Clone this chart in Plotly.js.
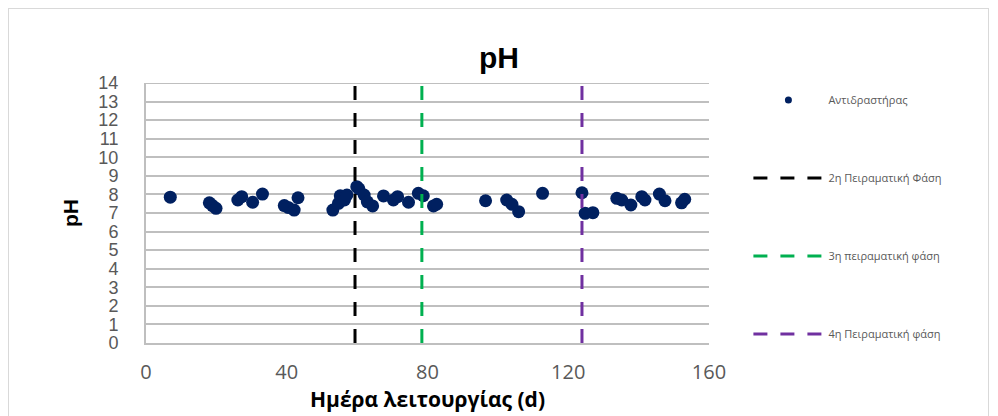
<!DOCTYPE html>
<html><head><meta charset="utf-8">
<script src="https://cdn.plot.ly/plotly-3.0.1.min.js"></script>
<style>
html,body{margin:0;padding:0;background:#fff;}
#frame{position:absolute;left:8px;top:8px;width:981px;height:430px;border:1px solid #d9d9d9;box-sizing:border-box;}
#chart{position:absolute;left:0;top:0;width:998px;height:416px;}
</style></head>
<body><div id="frame"></div><div id="chart"></div>
<script>
// Reactor pH measurements
const days = [6.9, 18.0, 18.9, 19.9, 26.1, 27.2, 30.3, 33.1, 39.3, 40.4, 42.1, 43.2,
  53.1, 54.7, 55.2, 56.4, 57.1, 59.9, 60.5, 62.0, 62.9, 64.4, 67.5, 70.3, 71.5, 74.6,
  77.4, 78.8, 81.7, 82.6, 96.5, 102.5, 104.0, 105.9, 112.7, 123.9, 124.8, 127.0,
  133.8, 135.2, 137.8, 140.9, 141.8, 145.9, 147.5, 152.2, 153.1];
const pH = [7.85, 7.55, 7.4, 7.25, 7.7, 7.88, 7.58, 8.02, 7.4, 7.3, 7.16, 7.82,
  7.16, 7.52, 7.93, 7.7, 7.97, 8.42, 8.3, 7.97, 7.6, 7.38, 7.92, 7.7, 7.88, 7.58,
  8.06, 7.93, 7.38, 7.47, 7.66, 7.7, 7.47, 7.07, 8.06, 8.09, 6.98, 7.02,
  7.79, 7.7, 7.43, 7.88, 7.7, 8.02, 7.66, 7.55, 7.74];
// Start days of experimental phases
const phaseNames = ['2η Πειραματική Φάση', '3η πειραματική φάση', '4η Πειραματική φάση'];
const phaseDays = [59.4, 78.4, 123.9];
const phaseColors = ['#000000', '#00b050', '#7030a0'];
const phaseSpan = [0, 14];
const xTicks = [0, 40, 80, 120, 160];
const yTicks = [0,1,2,3,4,5,6,7,8,9,10,11,12,13,14];

const navy = '#002060';
const traces = [];
traces.push({x: days, y: pH, type: 'scatter', mode: 'markers', name: 'Αντιδραστήρας',
  marker: {color: navy, size: 13}, showlegend: false, cliponaxis: false});
traces.push({x: [null], y: [null], type: 'scatter', mode: 'markers', name: 'Αντιδραστήρας',
  marker: {color: navy, size: 7}, legendgroup: 'a'});
phaseNames.forEach((n, i) => {
  traces.push({x: [phaseDays[i], phaseDays[i]], y: phaseSpan, type: 'scatter', mode: 'lines',
    name: n, legendgroup: 'g' + i, cliponaxis: false,
    line: {color: phaseColors[i], width: 3, dash: '14px,13px'}});
});

const sans = 'Open Sans, Noto Sans, sans-serif';
const lib = 'Liberation Sans, Arial, sans-serif';
const layout = {
  width: 998, height: 416,
  margin: {l: 146, r: 289, t: 83, b: 73},
  paper_bgcolor: 'rgba(0,0,0,0)', plot_bgcolor: 'rgba(0,0,0,0)',
  font: {family: sans, color: '#595959'},
  title: {text: '<b>pH</b>', font: {family: lib, size: 30, color: '#000'},
    xref: 'container', x: 0.5, xanchor: 'center', yref: 'container', y: 1 - 57/416, yanchor: 'middle'},
  xaxis: {range: [0, 160], tickvals: xTicks, ticktext: xTicks.map(String), showgrid: false,
    zeroline: false, showline: true, linecolor: '#bfbfbf', linewidth: 2,
    ticks: '', tickfont: {family: sans, size: 20, color: '#595959'}, ticklabelstandoff: 10,
    title: {text: '<b>Ημέρα λειτουργίας (d)</b>', font: {family: sans, size: 21, color: '#000'}, standoff: 2}},
  yaxis: {range: [0, 14], tickvals: yTicks, ticktext: yTicks.map(String), showgrid: true,
    gridcolor: '#bfbfbf', gridwidth: 2, zeroline: false, showline: true, linecolor: '#bfbfbf',
    linewidth: 2, ticks: '', tickfont: {family: lib, size: 18, color: '#595959'}, ticklabelstandoff: 22,
    title: {text: '<b>pH</b>', font: {family: lib, size: 21, color: '#000'}, standoff: 14}},
  showlegend: true,
  legend: {x: 1.07, xanchor: 'left', y: 0.99, yanchor: 'top', tracegroupgap: 59,
    itemwidth: 70, font: {family: sans, size: 11, color: '#595959'}, bgcolor: 'rgba(0,0,0,0)'},
  shapes: [{type: 'line', xref: 'paper', yref: 'y', x0: 0, x1: 1, y0: 14, y1: 14,
    line: {color: '#bfbfbf', width: 2}, layer: 'below'}]
};
Plotly.newPlot('chart', traces, layout, {displayModeBar: false, staticPlot: true});
</script></body></html>
